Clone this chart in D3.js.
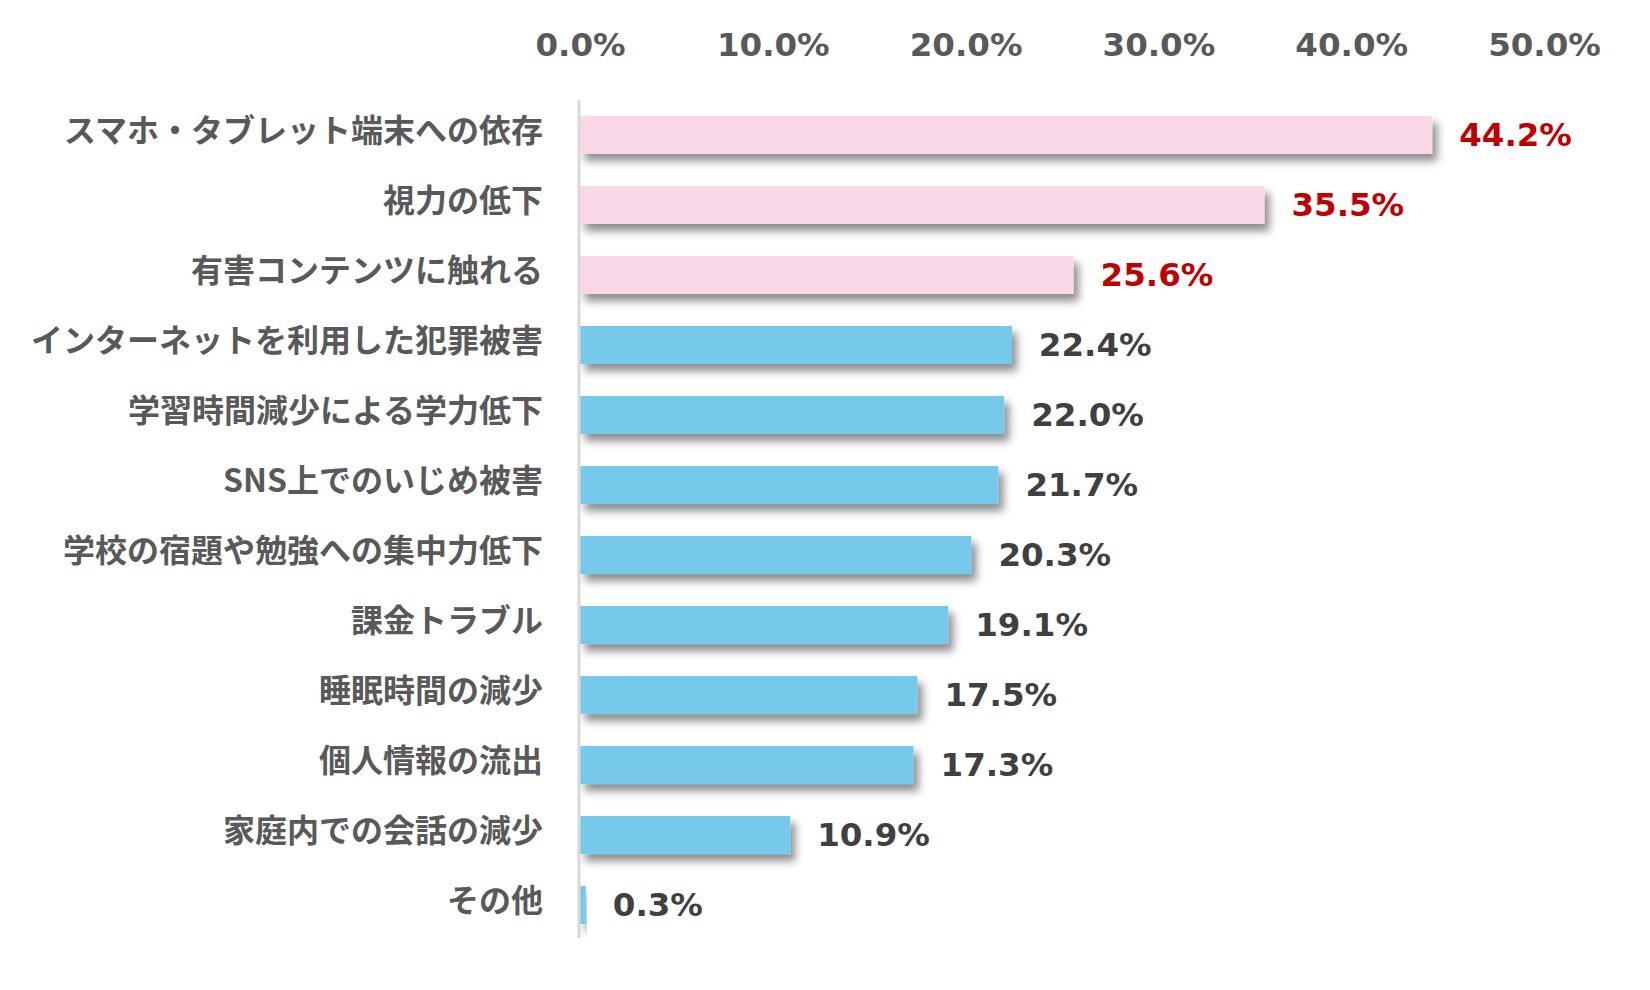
<!DOCTYPE html>
<html>
<head>
<meta charset="utf-8">
<script src="https://cdn.jsdelivr.net/npm/d3@7"></script>
<style>
  body { margin: 0; background: #fff; }
  svg { display: block; }
</style>
</head>
<body>
<svg></svg>
<script>
var width = 1650;
var height = 990;

var categories = [
    "スマホ・タブレット端末への依存",
    "視力の低下",
    "有害コンテンツに触れる",
    "インターネットを利用した犯罪被害",
    "学習時間減少による学力低下",
    "SNS上でのいじめ被害",
    "学校の宿題や勉強への集中力低下",
    "課金トラブル",
    "睡眠時間の減少",
    "個人情報の流出",
    "家庭内での会話の減少",
    "その他"
];
var values = [44.2, 35.5, 25.6, 22.4, 22.0, 21.7, 20.3, 19.1, 17.5, 17.3, 10.9, 0.3];
var highlight = [true, true, true, false, false, false, false, false, false, false, false, false];
var ticks = [0, 10, 20, 30, 40, 50];

var data = categories.map((c, i) => ({ name: c, value: values[i], top: highlight[i] }));

var svg = d3.select("svg")
    .attr("width", width)
    .attr("height", height)
    .attr("viewBox", [0, 0, width, height]);

var x = d3.scaleLinear().domain([0, 50]).range([580, 1544]);
var y = d3.scaleBand()
    .domain(categories)
    .range([100, 940])
    .paddingInner(0.457)
    .paddingOuter(0.228);

// drop shadow under the bars
var filter = svg.append("defs").append("filter")
    .attr("id", "shadow")
    .attr("x", "-10%").attr("y", "-30%")
    .attr("width", "130%").attr("height", "190%");
filter.append("feDropShadow")
    .attr("dx", 5).attr("dy", 7)
    .attr("stdDeviation", 4)
    .attr("flood-color", "#000")
    .attr("flood-opacity", 0.45);

// top axis tick labels
var xAxis = svg.append("g")
    .attr("transform", "translate(0,56)")
    .call(d3.axisTop(x).tickValues(ticks).tickSize(0).tickPadding(0)
        .tickFormat(d => d.toFixed(1) + "%"));
xAxis.select(".domain").remove();
xAxis.selectAll("text")
    .attr("fill", "#595959")
    .attr("font-family", "'DejaVu Sans', Verdana, sans-serif")
    .attr("font-weight", "bold")
    .attr("font-size", 32.5)
    .attr("dy", 0);

// bars
svg.append("g")
    .selectAll("rect")
    .data(data)
    .join("rect")
    .attr("x", x(0))
    .attr("y", d => y(d.name))
    .attr("width", d => x(d.value) - x(0))
    .attr("height", y.bandwidth())
    .attr("fill", d => d.top ? "#F9D7E7" : "#76C9EA")
    .attr("filter", "url(#shadow)");

// vertical axis line
svg.append("line")
    .attr("x1", x(0) - 1).attr("x2", x(0) - 1)
    .attr("y1", 100).attr("y2", 938)
    .attr("stroke", "#D9D9D9")
    .attr("stroke-width", 3);

// category labels
svg.append("g")
    .selectAll("text")
    .data(data)
    .join("text")
    .attr("x", 543)
    .attr("y", d => y(d.name) + y.bandwidth() / 2 - 7)
    .attr("text-anchor", "end")
    .attr("dominant-baseline", "central")
    .attr("fill", "#595959")
    .attr("font-family", "'Noto Sans CJK JP', sans-serif")
    .attr("font-weight", "bold")
    .attr("font-size", 32)
    .text(d => d.name);

// value labels
svg.append("g")
    .selectAll("text")
    .data(data)
    .join("text")
    .attr("x", d => x(d.value) + 27)
    .attr("y", d => y(d.name) + y.bandwidth() / 2 + 11)
    .attr("fill", d => d.top ? "#C00000" : "#404040")
    .attr("font-family", "'DejaVu Sans', Verdana, sans-serif")
    .attr("font-weight", "bold")
    .attr("font-size", 32.5)
    .text(d => d.value.toFixed(1) + "%");
</script>
</body>
</html>
